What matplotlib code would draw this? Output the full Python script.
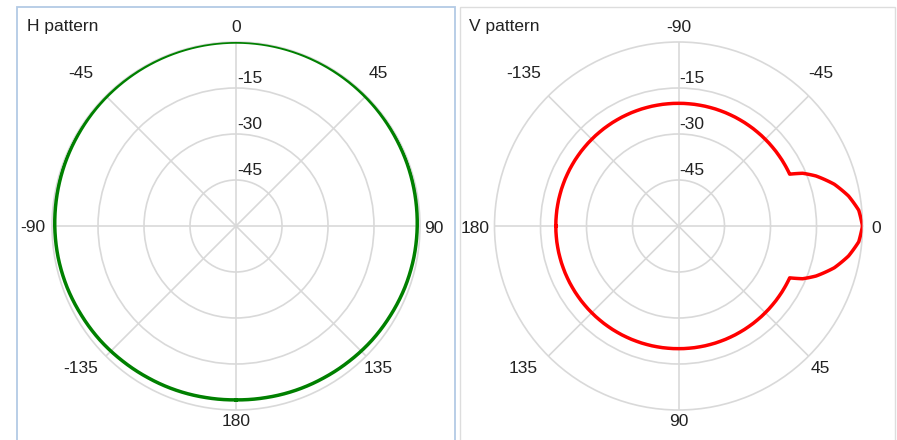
import numpy as np
import matplotlib.pyplot as plt
from matplotlib.patches import Rectangle

plt.rcParams['font.family'] = ['Liberation Sans', 'DejaVu Sans']

# H pattern (degrees, dB)
h_angles = [-180, -170, -160, -150, -140, -130, -120, -110, -100, -90, -80, -70, -60, -50, -40,
            -30, -20, -10, 0, 10, 20, 30, 40, 50, 60, 70, 80, 90, 100, 110, 120, 130, 140,
            150, 160, 170, 180]
h_db = [-3.3, -3.2, -3.0, -2.8, -2.5, -2.1, -1.8, -1.4, -1.1, -0.9, -0.75, -0.6, -0.5, -0.35, -0.25,
        -0.15, -0.08, -0.02, 0.0, -0.02, -0.08, -0.15, -0.25, -0.35, -0.5, -0.6, -0.75, -0.9, -1.1,
        -1.4, -1.8, -2.1, -2.5, -2.8, -3.0, -3.2, -3.3]

# V pattern (degrees, dB)
v_angles = [-180, -170, -160, -150, -140, -130, -120, -110, -100, -90, -80, -70, -60, -50, -40,
            -30, -25, -23, -20, -15, -10, -5, 0, 5, 10, 15, 20, 23, 25, 30, 40, 50, 60, 70, 80,
            90, 100, 110, 120, 130, 140, 150, 160, 170, 180]
v_db = [-20, -20, -20, -20, -20, -20, -20, -20, -20, -20, -20, -20, -20, -20, -20,
        -20, -20, -16.0, -12.3, -7.4, -3.7, -1.0, 0.0, -1.0, -3.7, -7.4, -12.3, -16.0, -20, -20,
        -20, -20, -20, -20, -20, -20, -20, -20, -20, -20, -20, -20, -20, -20, -20]

theta_ticks = [0, 45, 90, 135, 180, -135, -90, -45]
r_ticks = [-45, -30, -15]
r_min, r_max = -60, 0

grid_col = '#d9d9d9'
text_col = '#222222'

W, H = 897, 440
fig = plt.figure(figsize=(W / 100, H / 100), dpi=100)

# panel frames
fig.add_artist(Rectangle((17 / W, -0.05), 438 / W, (433 / H) + 0.05, transform=fig.transFigure,
                         fill=False, edgecolor='#b3cae5', lw=1.3))
fig.add_artist(Rectangle((460 / W, -0.05), 435 / W, (433 / H) + 0.05, transform=fig.transFigure,
                         fill=False, edgecolor='#dddddd', lw=1.0))


def polar_panel(left, zero_loc, up_theta, angles, db, color, title, title_x):
    ax = fig.add_axes([left / W, 30 / H, 368 / W, 368 / H], projection='polar')
    ax.set_theta_zero_location(zero_loc)
    ax.set_theta_direction(-1)
    ln, = ax.plot(np.deg2rad(angles), db, color=color, lw=2.5, zorder=5)
    # draw segments as arcs instead of chords
    ln.get_path()._interpolation_steps = 40
    ax.set_ylim(r_min, r_max)
    ax.set_yticks(r_ticks)
    ax.set_yticklabels([])
    ax.set_xticks(np.deg2rad(np.mod(theta_ticks, 360)))
    ax.set_xticklabels([])
    ax.set_xlim(0, 2 * np.pi)
    ax.tick_params(axis='x', length=0)
    ax.grid(True, color=grid_col, lw=1.2)
    ax.spines['polar'].set_color(grid_col)
    ax.spines['polar'].set_linewidth(1.2)

    # angle labels just outside the outer ring
    zero_deg = 90 if zero_loc == 'N' else 0
    for t in theta_ticks:
        a = np.deg2rad(zero_deg - t)
        ux, uy = np.cos(a), np.sin(a)
        if abs(ux) > 0.1 and abs(uy) > 0.1:
            ox = 12 if ux > 0 else -25
            oy = 24 if uy > 0 else -10
        else:
            ox = 0 if abs(ux) < 0.1 else (14 if ux > 0 else -19)
            oy = 0 if abs(uy) < 0.1 else (17 if uy > 0 else -9)
        ax.annotate(str(t), xy=(np.deg2rad(t), r_max), xytext=(ox, oy - 2), textcoords='offset pixels',
                    ha='center', va='center', fontsize=12.5, color=text_col, annotation_clip=False)

    for r in r_ticks:
        ax.annotate(str(r), xy=(np.deg2rad(up_theta), r), xytext=(1, 5), textcoords='offset pixels',
                    ha='left', va='baseline', fontsize=12.5, color=text_col, zorder=6)
    fig.text(title_x / W, 1 - 26 / H, title, fontsize=12.5, color=text_col, ha='left', va='center')
    return ax


polar_panel(52, 'N', 0, h_angles, h_db, '#008000', 'H pattern', 27)
polar_panel(494.5, 'E', -90, v_angles, v_db, '#ff0000', 'V pattern', 469)

fig.savefig('out.png', dpi=100)
